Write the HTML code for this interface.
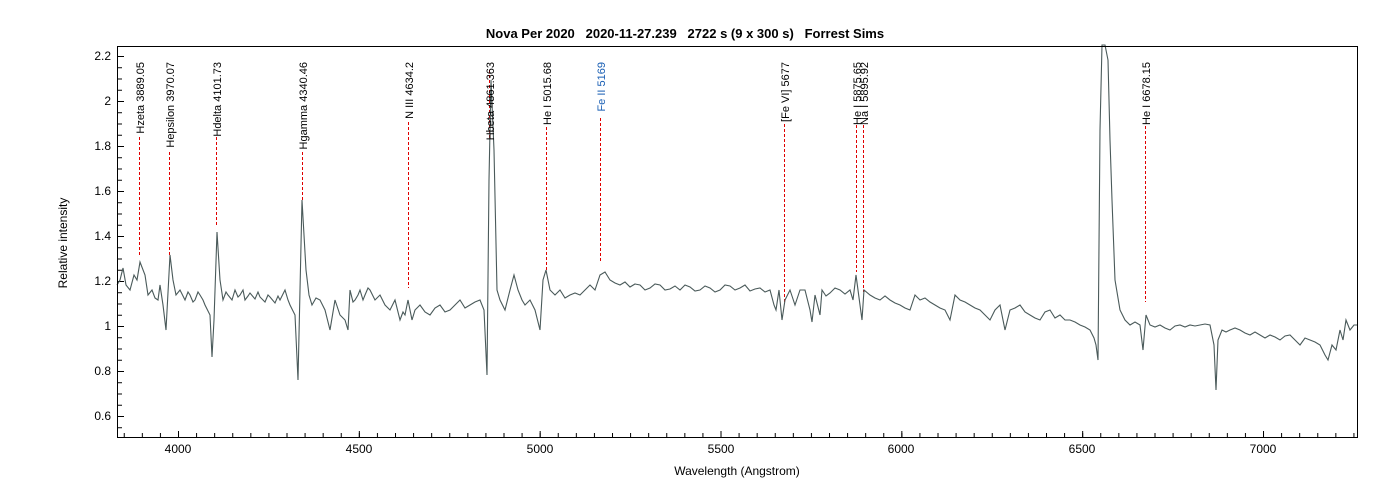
<!DOCTYPE html>
<html><head><meta charset="utf-8"><style>
html,body{margin:0;padding:0;background:#fff;}
svg{display:block;font-family:"Liberation Sans",sans-serif;}
</style></head><body>
<svg width="1400" height="500" viewBox="0 0 1400 500" xmlns="http://www.w3.org/2000/svg">
<defs>
<pattern id="xmin" patternUnits="userSpaceOnUse" x="178" y="0" width="18.0835" height="500"><line x1="0.5" y1="0" x2="0.5" y2="500" stroke="#000" stroke-width="1"/></pattern>
<pattern id="xmaj" patternUnits="userSpaceOnUse" x="178" y="0" width="180.835" height="500"><line x1="0.5" y1="0" x2="0.5" y2="500" stroke="#000" stroke-width="1"/></pattern>
<pattern id="ymin" patternUnits="userSpaceOnUse" x="0" y="326" width="500" height="11.25"><line x1="0" y1="0.5" x2="500" y2="0.5" stroke="#000" stroke-width="1"/></pattern>
<pattern id="ymaj" patternUnits="userSpaceOnUse" x="0" y="326" width="500" height="45"><line x1="0" y1="0.5" x2="500" y2="0.5" stroke="#000" stroke-width="1"/></pattern>
</defs>
<rect width="1400" height="500" fill="#fff"/>
<text x="685" y="38" text-anchor="middle" font-size="13" font-weight="bold" fill="#000" xml:space="preserve" style="white-space:pre">Nova Per 2020   2020-11-27.239   2722 s (9 x 300 s)   Forrest Sims</text>
<rect x="118" y="433" width="1239" height="4" fill="url(#xmin)"/>
<rect x="118" y="431" width="1239" height="6" fill="url(#xmaj)"/>
<rect x="118" y="47" width="4" height="390" fill="url(#ymin)"/>
<rect x="118" y="47" width="6" height="390" fill="url(#ymaj)"/>
<g font-size="12" fill="#000" text-anchor="end">
<text x="111" y="60">2.2</text><text x="111" y="105">2</text><text x="111" y="150">1.8</text>
<text x="111" y="195">1.6</text><text x="111" y="240">1.4</text><text x="111" y="285">1.2</text>
<text x="111" y="330">1</text><text x="111" y="375">0.8</text><text x="111" y="420">0.6</text>
</g>
<g font-size="12" fill="#000" text-anchor="middle">
<text x="178" y="453">4000</text><text x="359" y="453">4500</text><text x="540" y="453">5000</text>
<text x="721" y="453">5500</text><text x="901" y="453">6000</text><text x="1082" y="453">6500</text><text x="1263" y="453">7000</text>
</g>
<text x="737" y="475" text-anchor="middle" font-size="12">Wavelength (Angstrom)</text>
<text transform="translate(67,243) rotate(-90)" text-anchor="middle" font-size="12">Relative intensity</text>
<g stroke="#e00000" stroke-width="1" stroke-dasharray="3,2">
<line x1="139.5" y1="137" x2="139.5" y2="256"/>
<line x1="169.5" y1="152" x2="169.5" y2="256"/>
<line x1="216.5" y1="137" x2="216.5" y2="226"/>
<line x1="302.5" y1="152" x2="302.5" y2="200"/>
<line x1="408.5" y1="122" x2="408.5" y2="288"/>
<line x1="489.5" y1="70" x2="489.5" y2="140"/>
<line x1="546.5" y1="127" x2="546.5" y2="270"/>
<line x1="600.5" y1="118" x2="600.5" y2="262"/>
<line x1="784.5" y1="124" x2="784.5" y2="302"/>
<line x1="856.5" y1="125" x2="856.5" y2="272"/>
<line x1="863.5" y1="125" x2="863.5" y2="292"/>
<line x1="1145.5" y1="126" x2="1145.5" y2="302"/>
</g>
<polyline fill="none" stroke="#4a5a5a" stroke-width="1.1" points="117,285 120,280 123,268 126,285 130,290 134,275 137,280 140,262 145,275 148,295 152,290 155,298 158,300 160,285 163,305 166,330 170,255 173,280 176,295 180,290 185,300 188,292 190,295 193,302 195,300 198,292 200,295 203,300 205,305 210,315 212,357 214,320 217,232 220,280 223,300 226,292 228,295 232,300 235,290 238,297 240,295 243,290 245,300 248,296 250,293 255,299 258,292 260,297 263,300 265,302 268,295 270,297 275,303 278,296 280,300 283,294 285,290 288,300 290,305 295,315 298,380 302,200 306,270 309,295 312,305 316,298 320,300 325,310 330,330 335,300 340,315 345,320 348,330 350,290 353,302 355,300 358,295 360,290 363,300 365,295 368,288 370,290 373,296 375,300 380,295 385,305 390,310 395,300 400,320 403,312 405,315 408,300 412,320 415,310 420,305 425,312 430,315 435,308 440,305 445,312 450,310 455,305 460,300 465,308 470,305 475,302 480,300 484,310 487,375 489,180 491,80 494,150 497,290 500,300 505,310 510,290 514,275 518,290 522,300 525,305 530,300 535,310 540,330 543,280 546,270 550,290 555,295 560,290 565,298 570,295 575,293 580,295 585,290 590,285 595,290 600,275 605,272 610,280 615,283 620,285 625,282 630,287 635,284 640,285 645,290 650,288 655,284 660,285 665,290 670,289 675,286 680,290 685,285 690,287 695,291 700,290 705,286 710,288 715,292 720,290 725,285 730,286 735,290 740,288 745,285 750,291 755,289 760,288 765,292 770,290 774,305 776,310 779,290 782,320 785,300 790,290 795,305 800,290 805,290 810,310 812,322 815,295 820,315 822,290 826,296 830,293 835,288 840,290 845,294 850,290 853,300 856,275 860,305 862,320 864,290 870,295 875,298 880,300 885,296 890,300 895,303 900,305 905,308 910,310 915,295 920,300 925,298 930,302 935,305 940,308 945,310 950,320 955,295 960,300 965,302 970,305 975,308 980,310 985,315 990,320 995,310 1000,305 1005,330 1010,310 1015,308 1020,305 1025,312 1030,315 1035,318 1040,320 1045,312 1050,310 1055,318 1060,315 1065,320 1070,320 1075,322 1080,325 1085,327 1090,330 1094,338 1096,345 1098,360 1100,130 1102,45 1105,45 1108,60 1110,140 1112,200 1115,280 1120,310 1125,320 1130,325 1135,322 1140,325 1143,350 1146,315 1150,325 1155,327 1160,325 1165,328 1170,330 1175,326 1180,325 1185,327 1190,325 1195,326 1200,325 1205,324 1210,325 1214,345 1216,390 1218,340 1222,330 1226,332 1230,330 1235,328 1240,330 1245,333 1250,335 1255,332 1260,335 1265,338 1270,335 1275,337 1280,340 1285,336 1290,335 1295,340 1300,345 1305,338 1310,340 1315,342 1320,345 1325,355 1328,360 1332,345 1336,350 1340,330 1343,340 1346,320 1350,330 1354,325 1357,325"/>
<g font-size="11" fill="#000" text-anchor="end">
<text transform="translate(144,62) rotate(-90)">Hzeta 3889.05</text>
<text transform="translate(174,62) rotate(-90)">Hepsilon 3970.07</text>
<text transform="translate(221,62) rotate(-90)">Hdelta 4101.73</text>
<text transform="translate(307,62) rotate(-90)">Hgamma 4340.46</text>
<text transform="translate(413,62) rotate(-90)">N III 4634.2</text>
<text transform="translate(494,62) rotate(-90)">Hbeta 4861.363</text>
<text transform="translate(551,62) rotate(-90)">He I 5015.68</text>
<text transform="translate(605,62) rotate(-90)" fill="#1a5fb4">Fe II 5169</text>
<text transform="translate(789,62) rotate(-90)">[Fe VI] 5677</text>
<text transform="translate(861,62) rotate(-90)">He I 5875.65</text>
<text transform="translate(868,62) rotate(-90)">Na I 5895.92</text>
<text transform="translate(1150,62) rotate(-90)">He I 6678.15</text>
</g>
<rect x="117.5" y="46.5" width="1240" height="391" fill="none" stroke="#000" stroke-width="1"/>
</svg>
</body></html>
